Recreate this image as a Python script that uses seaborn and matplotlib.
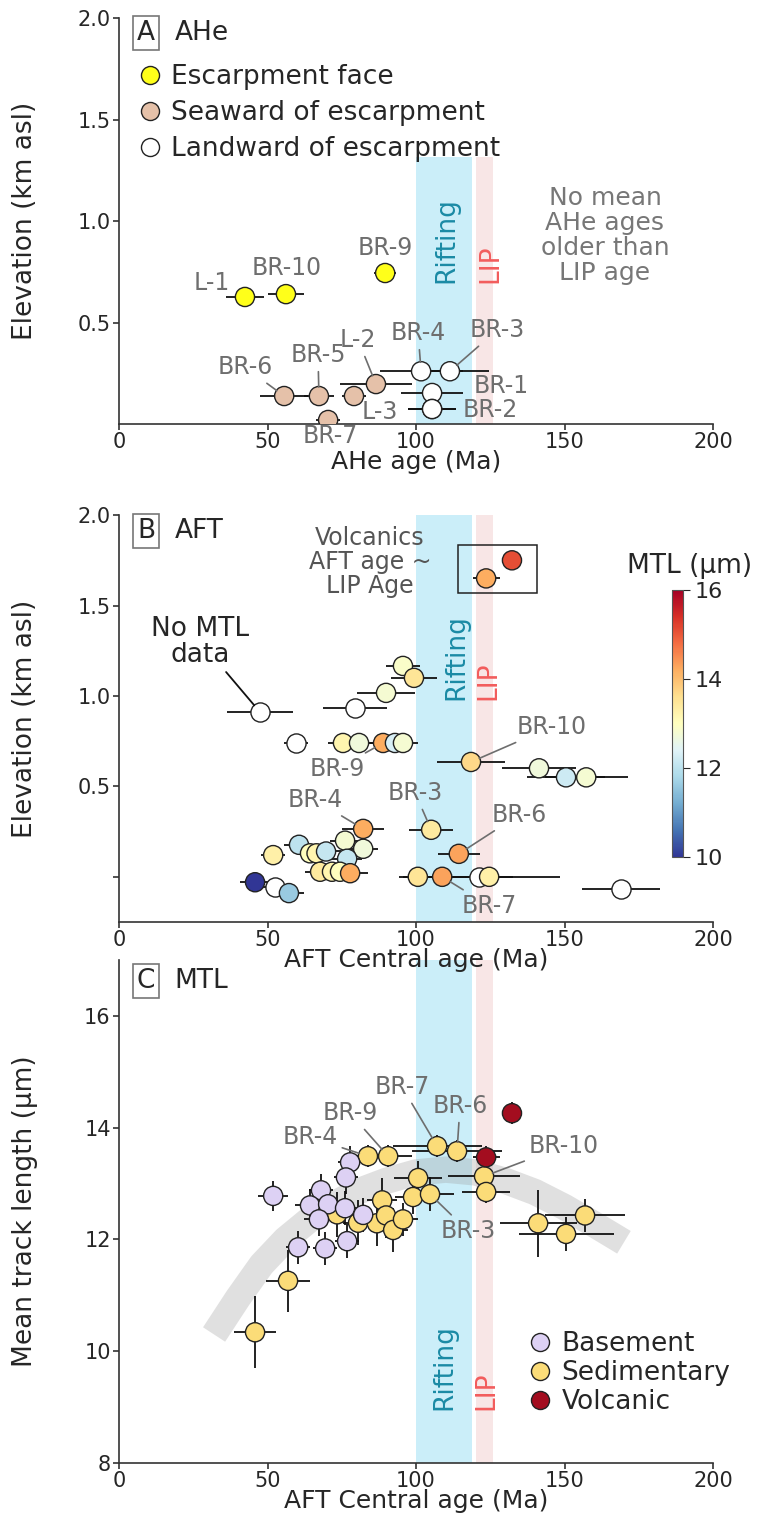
import numpy as np
import pandas as pd
import matplotlib.pyplot as plt
import seaborn as sns
from matplotlib.lines import Line2D
from matplotlib.patches import Rectangle
from matplotlib.colors import Normalize
from matplotlib.cm import ScalarMappable

sns.set_style("ticks")
plt.rcParams['font.family'] = ['DejaVu Sans']

# ---------------- Panel A: AHe ----------------
ahe_label = ["L-1", "BR-10", "BR-9", "BR-6", "BR-5", "", "L-2", "BR-7",
             "BR-4", "BR-3", "BR-1", "BR-2", "L-3"]
ahe_age = [42.4, 56.2, 89.6, 55.6, 67.3, 79.1, 86.5, 70.4, 101.7, 111.4, 105.4, 105.4, 105.4]
ahe_elev = [0.626, 0.64, 0.744, 0.138, 0.138, 0.138, 0.197, 0.02, 0.26, 0.26, 0.153, 0.074, 0.074]
ahe_err = [6.4, 6.0, 3.7, 8.0, 5.0, 4.0, 12.0, 4.0, 14.0, 13.0, 10.5, 8.0, 8.0]
ahe_group = ["Escarpment face"] * 3 + ["Seaward of escarpment"] * 5 + ["Landward of escarpment"] * 5

# ---------------- Panel B: AFT ----------------
aft_age = [132.3, 123.6, 95.6, 99.3, 89.9, 79.5, 47.5,
           59.6, 75.4, 80.8, 88.9, 92.9, 95.6,
           118.5, 141.4, 150.5, 157.3,
           82.2, 105.1, 114.4, 76.1, 82.2, 60.6, 51.9, 64.3, 66.5, 69.7, 76.8,
           67.7, 71.7, 74.4, 77.8, 45.8, 52.5, 57.2,
           100.6, 108.8, 121.3, 124.6, 169.0]
aft_elev = [1.75, 1.65, 1.166, 1.10, 1.017, 0.934, 0.91,
            0.74, 0.74, 0.74, 0.74, 0.74, 0.74,
            0.635, 0.60, 0.55, 0.55,
            0.265, 0.26, 0.127, 0.20, 0.155, 0.177, 0.12, 0.13, 0.13, 0.14, 0.10,
            0.028, 0.028, 0.028, 0.02, -0.03, -0.055, -0.09,
            0.0, 0.0, 0.0, 0.0, -0.07]
aft_err = [3.5, 4.5, 5.7, 7.7, 9.8, 10.8, 11.0,
           4.0, 5.0, 5.0, 5.0, 5.0, 5.0,
           11.6, 12.5, 13.0, 14.0,
           7.0, 7.5, 7.0, 5.0, 5.0, 5.0, 4.0, 5.0, 5.0, 5.0, 5.0,
           5.0, 5.0, 5.0, 6.0, 5.0, 5.0, 5.0,
           5.0, 8.0, 27.0, 8.0, 13.0]
aft_mtl = [15.1, 14.2, 12.9, 13.5, 12.8, np.nan, np.nan,
           np.nan, 13.2, 12.7, 14.2, 12.3, 12.8,
           13.7, 12.7, 12.2, 12.8,
           14.2, 13.4, 14.3, 12.8, 12.7, 12.0, 13.3, 13.0, 13.2, 12.1, 12.1,
           13.4, 13.2, 13.0, 14.2, 10.0, np.nan, 11.6,
           13.5, 14.3, np.nan, 13.3, np.nan]

# ---------------- Panel C: MTL ----------------
mtl_age = [45.8, 56.9, 73.4, 80.5, 86.8, 88.6, 89.9, 92.3, 95.6, 99.0, 100.7, 104.7,
           83.8, 90.6, 107.1, 113.8, 122.9, 123.6, 141.1, 156.9, 150.5,
           51.9, 77.8, 76.4, 68.0, 64.3, 70.4, 76.1, 67.3, 82.2, 60.3, 69.4, 76.8,
           132.3, 123.6]
mtl_len = [10.34, 11.26, 12.45, 12.30, 12.29, 12.70, 12.43, 12.17, 12.36, 12.76, 13.10, 12.81,
           13.49, 13.49, 13.67, 13.58, 13.13, 12.85, 12.29, 12.43, 12.10,
           12.78, 13.38, 13.11, 12.88, 12.61, 12.63, 12.56, 12.36, 12.44, 11.86, 11.84, 11.97,
           14.26, 13.47]
mtl_xerr = [7.0, 7.5, 5.0, 5.0, 6.0, 5.0, 5.0, 5.0, 5.0, 6.0, 8.0, 8.0,
            7.0, 8.0, 15.0, 15.0, 12.0, 8.0, 13.0, 13.5, 16.0,
            5.0, 4.0, 4.0, 4.0, 5.0, 5.0, 5.0, 5.0, 5.0, 4.0, 4.0, 4.0,
            3.5, 4.5]
mtl_yerr = [0.64, 0.55, 0.4, 0.4, 0.4, 0.4, 0.4, 0.4, 0.3, 0.3, 0.3, 0.3,
            0.2, 0.2, 0.2, 0.2, 0.2, 0.2, 0.6, 0.3, 0.3,
            0.27, 0.3, 0.3, 0.3, 0.3, 0.3, 0.3, 0.3, 0.3, 0.3, 0.3, 0.3,
            0.2, 0.2]
mtl_group = ["Sedimentary"] * 21 + ["Basement"] * 12 + ["Volcanic"] * 2

# gray trend band (hand-read centre line)
trend_age = [32, 40, 48, 56, 64, 72, 80, 90, 100, 110, 120, 130, 140, 150, 160, 170]
trend_mtl = [10.3, 10.95, 11.55, 12.0, 12.35, 12.62, 12.85, 13.05, 13.2, 13.25, 13.2,
             13.05, 12.85, 12.58, 12.27, 11.95]

RIFT = (100, 119)
LIP = (120.2, 126)
RIFT_C = "#cbeef9"
LIP_C = "#f8e6e6"
GRAY = "#6e6e6e"
EDGE = "#222222"

fig = plt.figure(figsize=(7.65, 15.15), dpi=100)
axA = fig.add_axes([0.1556, 0.7201, 0.7765, 0.268])
axB = fig.add_axes([0.1556, 0.3914, 0.7765, 0.2686])
axC = fig.add_axes([0.1556, 0.0343, 0.7765, 0.332])
cax = fig.add_axes([0.8784, 1 - 857 / 1515, 0.0144, 267 / 1515])
for z, ax in zip((3, 2, 1), (axA, axB, axC)):
    ax.patch.set_visible(False)
    ax.set_zorder(z)


def style(ax):
    sns.despine(ax=ax)
    for s in ["left", "bottom"]:
        ax.spines[s].set_linewidth(1.2)
        ax.spines[s].set_color("#333333")
    ax.tick_params(labelsize=15, length=4.5, width=1.2, pad=1.5, color="#333333")
    ax.set_xlim(0, 200)
    ax.set_xticks([0, 50, 100, 150, 200])
    ax.yaxis.set_label_coords(-0.137, 0.5)
    ax.xaxis.labelpad = -1.5


def tag(ax, letter, name, y):
    ax.text(0.0455, y, letter, transform=ax.transAxes, fontsize=19, ha="center", va="center",
            bbox=dict(boxstyle="square,pad=0.15", fc="white", ec="#777777", lw=1.2))
    ax.text(0.094, y, name, transform=ax.transAxes, fontsize=19, ha="left", va="center")


def lab(ax, txt, xy, xytext, ha="center", line=True):
    ax.annotate(txt, xy=xy, xytext=xytext, ha=ha, va="center", fontsize=17, color=GRAY,
                annotation_clip=False, zorder=5,
                arrowprops=dict(arrowstyle="-", color=GRAY, lw=1.2, shrinkA=1, shrinkB=6.5)
                if line else None)


def bands(ax, ytop, txt_y, rx, lx):
    ax.axvspan(*RIFT, ymax=ytop, color=RIFT_C, lw=0, zorder=0)
    ax.axvspan(*LIP, ymax=ytop, color=LIP_C, lw=0, zorder=0)
    ax.text(rx, txt_y, "Rifting", rotation=90, ha="center", va="bottom", fontsize=19,
            color="#1a8aa5", zorder=1)
    ax.text(lx, txt_y, "LIP", rotation=90, ha="center", va="bottom", fontsize=19,
            color="#f25c5c", zorder=1)


# ---------------- Panel A ----------------
dfA = pd.DataFrame({"age": ahe_age, "elev": ahe_elev, "err": ahe_err, "group": ahe_group})
palA = {"Escarpment face": "#ffff1a", "Seaward of escarpment": "#e5c1a9",
        "Landward of escarpment": "white"}
bands(axA, 0.657, 0.695, 110.1, 125.0)
axA.errorbar(dfA["age"], dfA["elev"], xerr=dfA["err"], fmt="none", ecolor="#111111",
             elinewidth=1.3, zorder=2)
sns.scatterplot(data=dfA, x="age", y="elev", hue="group", palette=palA, s=190,
                edgecolor=EDGE, linewidth=1, legend=False, ax=axA, zorder=3)
style(axA)
axA.set_ylim(0, 2)
axA.set_yticks([0.5, 1.0, 1.5, 2.0])
axA.set_xlabel("AHe age (Ma)", fontsize=18)
axA.set_ylabel("Elevation (km asl)", fontsize=19)
tag(axA, "A", "AHe", 0.963)
handlesA = [Line2D([], [], marker="o", ls="", ms=13, mfc=palA[k], mec=EDGE, mew=1, label=k)
            for k in palA]
axA.legend(handles=handlesA, loc="upper left", bbox_to_anchor=(0.03, 0.887), frameon=False,
           fontsize=19, handlelength=1.0, handletextpad=0.3, labelspacing=0.38, borderpad=0,
           borderaxespad=0)
axA.text(163.6, 0.93, "No mean\nAHe ages\nolder than\nLIP age", ha="center", va="center",
         fontsize=18, color="#777777", linespacing=1.05)
lab(axA, "L-1", (42.4, 0.626), (31.3, 0.695), line=False)
lab(axA, "BR-10", (56.2, 0.64), (56.5, 0.77), line=False)
lab(axA, "BR-9", (89.6, 0.744), (89.6, 0.867), line=False)
lab(axA, "BR-6", (55.6, 0.138), (42.4, 0.28))
lab(axA, "BR-5", (67.3, 0.138), (67.0, 0.34))
lab(axA, "L-2", (86.5, 0.197), (80.5, 0.414))
lab(axA, "BR-4", (101.7, 0.26), (100.7, 0.448))
lab(axA, "BR-3", (111.4, 0.26), (127.3, 0.463))
lab(axA, "BR-1", (105.4, 0.153), (119.5, 0.185), ha="left", line=False)
lab(axA, "BR-2", (105.4, 0.074), (115.8, 0.068), ha="left", line=False)
lab(axA, "L-3", (105.4, 0.074), (93.9, 0.059), ha="right", line=False)
lab(axA, "BR-7", (70.4, 0.02), (71.0, -0.06), line=False)

# ---------------- Panel B ----------------
dfB = pd.DataFrame({"age": aft_age, "elev": aft_elev, "err": aft_err, "mtl": aft_mtl})
norm = Normalize(10, 16.0)
bands(axB, 1.0, 0.98, 113.5, 124.5)
axB.errorbar(dfB["age"], dfB["elev"], xerr=dfB["err"], fmt="none", ecolor="#111111",
             elinewidth=1.3, zorder=2)
sns.scatterplot(data=dfB[dfB["mtl"].isna()], x="age", y="elev", color="white", s=190,
                edgecolor=EDGE, linewidth=1, legend=False, ax=axB, zorder=3)
sns.scatterplot(data=dfB.dropna(), x="age", y="elev", hue="mtl", palette="RdYlBu_r",
                hue_norm=norm, s=190, edgecolor=EDGE, linewidth=1, legend=False, ax=axB,
                zorder=3)
style(axB)
axB.set_ylim(-0.25, 2.0)
axB.set_yticks([0, 0.5, 1.0, 1.5, 2.0])
axB.set_yticklabels(["", "0.5", "1.0", "1.5", "2.0"])
axB.set_xlabel("AFT Central age (Ma)", fontsize=18)
axB.set_ylabel("Elevation (km asl)", fontsize=19)
tag(axB, "B", "AFT", 0.961)
axB.add_patch(Rectangle((114.1, 1.57), 26.6, 0.264, fill=False, ec="#222222", lw=1.1, zorder=4))
axB.text(84.5, 1.74, "Volcanics\nAFT age ~\nLIP Age", ha="center", va="center", fontsize=17,
         color="#555555", linespacing=1.0)
axB.annotate("No MTL\ndata", xy=(47.5, 0.91), xytext=(27.4, 1.30), ha="center", va="center",
             fontsize=19, linespacing=1.0,
             arrowprops=dict(arrowstyle="-", color="#111111", lw=1.3, shrinkA=1, shrinkB=6.5))
lab(axB, "BR-9", (88.9, 0.74), (73.4, 0.597))
lab(axB, "BR-4", (82.2, 0.265), (66.0, 0.425))
lab(axB, "BR-3", (105.1, 0.26), (99.7, 0.464))
lab(axB, "BR-6", (114.4, 0.127), (134.7, 0.343))
lab(axB, "BR-7", (108.8, 0.0), (124.6, -0.16))
lab(axB, "BR-10", (118.5, 0.635), (145.8, 0.83))

cb = fig.colorbar(ScalarMappable(norm=norm, cmap="RdYlBu_r"), cax=cax, ticks=[10, 12, 14, 16])
cb.outline.set_edgecolor("#555555")
cax.tick_params(labelsize=16, length=5)
fig.text(0.902, 1 - 566 / 1515, "MTL (μm)", ha="center", va="center", fontsize=19)

# ---------------- Panel C ----------------
dfC = pd.DataFrame({"age": mtl_age, "mtl": mtl_len, "xe": mtl_xerr, "ye": mtl_yerr,
                    "group": mtl_group})
palC = {"Basement": "#ddd1f4", "Sedimentary": "#fbdc78", "Volcanic": "#a30d1f"}
bands(axC, 1.0, 8.95, 109.4, 123.6)
axC.plot(trend_age, trend_mtl, color="#9a9a9a", alpha=0.3, lw=19, solid_capstyle="butt",
         solid_joinstyle="round", zorder=1)
axC.errorbar(dfC["age"], dfC["mtl"], xerr=dfC["xe"], yerr=dfC["ye"], fmt="none",
             ecolor="#111111", elinewidth=1.3, zorder=2)
sns.scatterplot(data=dfC, x="age", y="mtl", hue="group", palette=palC, s=190,
                edgecolor=EDGE, linewidth=1, legend=False, ax=axC, zorder=3)
style(axC)
axC.set_ylim(8, 17)
axC.set_yticks([8, 10, 12, 14, 16])
axC.set_xlabel("AFT Central age (Ma)", fontsize=18)
axC.set_ylabel("Mean track length (μm)", fontsize=19)
tag(axC, "C", "MTL", 0.958)
lab(axC, "BR-4", (83.8, 13.49), (64.3, 13.83))
lab(axC, "BR-9", (90.6, 13.49), (77.8, 14.26))
lab(axC, "BR-7", (107.1, 13.67), (95.3, 14.73))
lab(axC, "BR-6", (113.8, 13.58), (114.8, 14.39))
lab(axC, "BR-10", (122.9, 13.13), (149.8, 13.67))
lab(axC, "BR-3", (104.7, 12.81), (117.5, 12.15))
handlesC = [Line2D([], [], marker="o", ls="", ms=13, mfc=palC[k], mec=EDGE, mew=1, label=k)
            for k in ["Basement", "Sedimentary", "Volcanic"]]
axC.legend(handles=handlesC, loc="upper left", bbox_to_anchor=(0.687, 0.263), frameon=False,
           fontsize=19, handlelength=1.0, handletextpad=0.3, labelspacing=0.12, borderpad=0,
           borderaxespad=0)

fig.savefig("out.png", dpi=100)
plt.close(fig)
